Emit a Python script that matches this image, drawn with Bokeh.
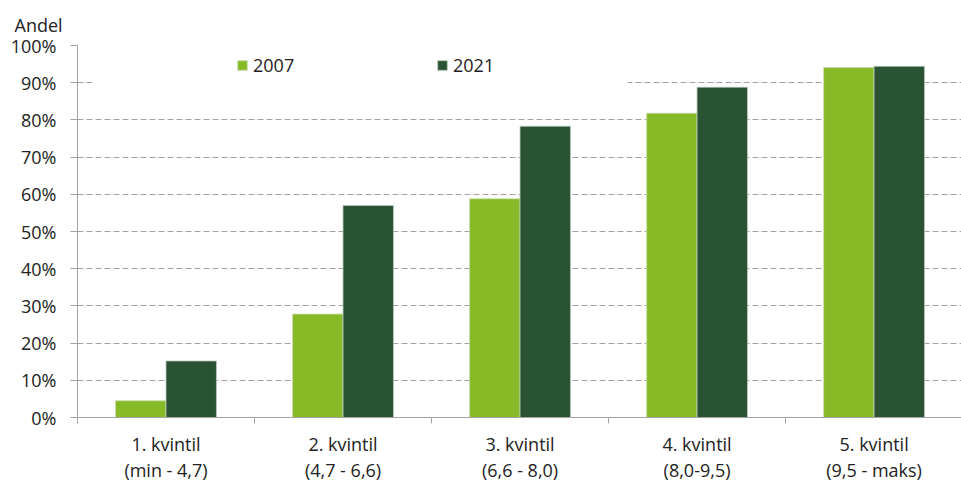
from bokeh.plotting import figure
from bokeh.models import (ColumnDataSource, Range1d, FixedTicker, Legend, LegendItem,
                          BoxAnnotation)
from bokeh.transform import dodge
from bokeh.embed import file_html
from bokeh.resources import INLINE

categories = ["1. kvintil\n(min - 4,7)", "2. kvintil\n(4,7 - 6,6)", "3. kvintil\n(6,6 - 8,0)",
              "4. kvintil\n(8,0-9,5)", "5. kvintil\n(9,5 - maks)"]
years = ["2007", "2021"]
values_2007 = [4.5, 27.8, 58.8, 81.8, 94.1]
values_2021 = [15.2, 57.0, 78.3, 88.8, 94.4]
y_ticks = [0, 10, 20, 30, 40, 50, 60, 70, 80, 90, 100]
y_tick_labels = [f"{v}%" for v in y_ticks]
y_title = "Andel"

FONT = "Open Sans"
FS = "18px"
TEXT = "#222222"
GRAY = "#a3a3a3"
C2007 = "#86bb27"
C2021 = "#2a5334"

xc = [i + 0.5 for i in range(len(categories))]
src = ColumnDataSource(dict(xc=xc, v2007=values_2007, v2021=values_2021))

p = figure(width=961, height=485, output_backend="svg", toolbar_location=None,
           x_range=Range1d(0, 4.994), y_range=Range1d(0, 100),
           min_border_left=77, min_border_right=0, min_border_top=45, min_border_bottom=66)
p.outline_line_color = None
p.background_fill_color = "white"

p.title.text = y_title
p.title.align = "left"
p.title.offset = -63
p.title.text_font = FONT
p.title.text_font_size = FS
p.title.text_font_style = "normal"
p.title.text_color = TEXT
p.title.standoff = 18

bw = 0.285
r1 = p.vbar(x=dodge("xc", -bw / 2, range=p.x_range), top="v2007", width=bw, source=src,
            fill_color=C2007, line_color="#c9dcb0", line_width=0.8)
r2 = p.vbar(x=dodge("xc", bw / 2, range=p.x_range), top="v2021", width=bw, source=src,
            fill_color=C2021, line_color="#b9c9bb", line_width=0.8)

# x axis
p.xaxis.ticker = FixedTicker(ticks=xc, minor_ticks=list(range(len(categories) + 1)))
p.xaxis.major_label_overrides = {x: c for x, c in zip(xc, categories)}
p.xaxis.major_tick_out = 0
p.xaxis.major_tick_in = 0
p.xaxis.minor_tick_out = 6
p.xaxis.minor_tick_in = 0
p.xaxis.minor_tick_line_color = GRAY
p.xaxis.axis_line_color = GRAY
p.xaxis.major_label_text_font = FONT
p.xaxis.major_label_text_font_size = FS
p.xaxis.major_label_text_color = TEXT
p.xaxis.major_label_text_line_height = 1.12
p.xaxis.major_label_standoff = 8
p.xgrid.grid_line_color = None

# y axis
p.yaxis.ticker = FixedTicker(ticks=y_ticks)
p.yaxis.major_label_overrides = {v: l for v, l in zip(y_ticks, y_tick_labels)}
p.yaxis.major_tick_out = 7
p.yaxis.major_tick_in = 0
p.yaxis.minor_tick_line_color = None
p.yaxis.major_tick_line_color = GRAY
p.yaxis.axis_line_color = GRAY
p.yaxis.major_label_text_font = FONT
p.yaxis.major_label_text_font_size = FS
p.yaxis.major_label_text_color = TEXT
p.yaxis.major_label_standoff = 14
p.ygrid.grid_line_color = GRAY
p.ygrid.grid_line_dash = "6 3"
p.ygrid.grid_line_width = 1

# white box behind legend (hides grid line)
box = BoxAnnotation(left=0.085, right=3.107, bottom=87.5, top=92.5,
                    fill_color="white", fill_alpha=1.0, line_color=None, level="glyph")
p.add_layout(box)

legend = Legend(items=[LegendItem(label=years[0], renderers=[r1]),
                       LegendItem(label=years[1], renderers=[r2])],
                orientation="horizontal", location=(159, 340),
                glyph_width=12, glyph_height=12, label_standoff=5, label_width=183,
                spacing=0, padding=0, margin=0,
                label_text_font=FONT, label_text_font_size=FS, label_text_color=TEXT,
                background_fill_alpha=0, border_line_color=None)
p.add_layout(legend)

open("out.html", "w").write(file_html(p, INLINE))
